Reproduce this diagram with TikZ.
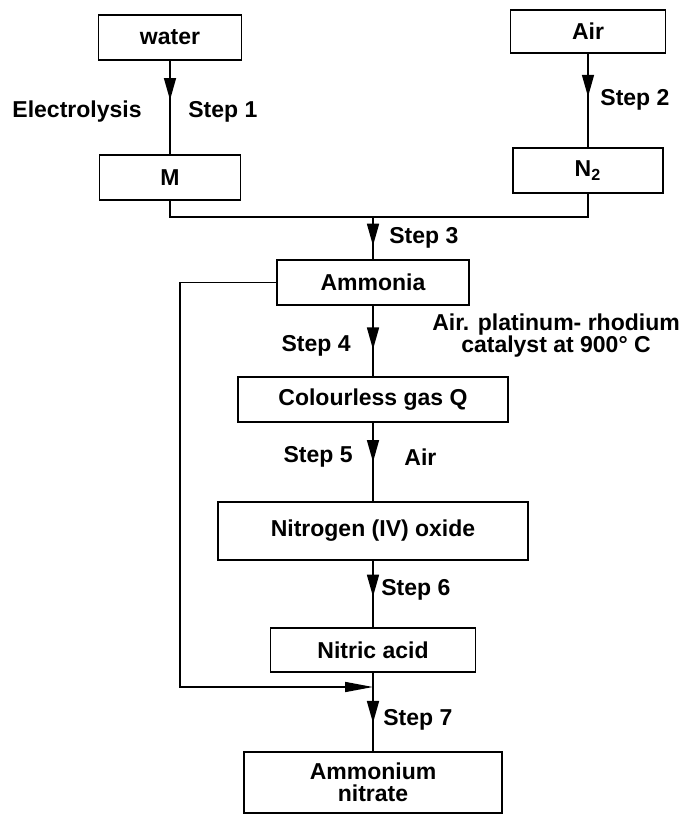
\documentclass[tikz,border=0pt]{standalone}
\usepackage{fontspec}
\setmainfont{Liberation Sans}
\usetikzlibrary{arrows.meta,decorations.markings}
\tikzset{
  box/.style={draw, line width=0.8pt, align=center, inner sep=0pt},
  lbl/.style={inner sep=0pt},
  link/.style={line width=0.8pt},
  flow/.style={link, postaction={decorate},
    decoration={markings, mark=at position #1 with {\arrow{Triangle[length=11pt,width=6pt]}}}},
}
\begin{document}
\begin{tikzpicture}[x=0.5pt, y=-0.5pt, font=\fontsize{11.5}{11}\selectfont\bfseries]
  \useasboundingbox (0,0) rectangle (695,817);
  \node[box, minimum width=71.5pt, minimum height=22.5pt] (water) at (170,37.5) {water};
  \node[box, minimum width=70.5pt, minimum height=22.5pt] (m) at (170,177.5) {M};
  \node[box, minimum width=77.5pt, minimum height=21.5pt] (air) at (588,31.5) {Air};
  \node[box, minimum width=75pt, minimum height=22.5pt] (n2) at (588,170.5) {N\textsubscript{2}};
  \node[box, minimum width=96pt, minimum height=22.5pt] (ammonia) at (373,282.5) {Ammonia};
  \node[box, minimum width=135pt, minimum height=22.5pt] (gasq) at (373,399.5) {Colourless gas Q};
  \node[box, minimum width=155pt, minimum height=29pt] (no2) at (373,531) {Nitrogen (IV) oxide};
  \node[box, minimum width=102.5pt, minimum height=22pt] (nitric) at (373,650) {Nitric acid};
  \node[box, minimum width=129pt, minimum height=30.5pt] (nitrate) at (373,782.5) {Ammonium\\nitrate};
  \coordinate (join) at (373,217);
  \coordinate (back) at (180,687);
  \coordinate (mix) at (373,687);
  \draw[flow=0.42] (water) -- (m);
  \draw[flow=0.46] (air) -- (n2);
  \draw[link] (m.south) |- (join) -| (n2.south);
  \draw[flow=0.68] (join) -- (ammonia);
  \draw[flow=0.62] (ammonia) -- (gasq);
  \draw[flow=0.5] (gasq) -- (no2);
  \draw[flow=0.54] (no2) -- (nitric);
  \draw[flow=0.64] (nitric) -- (nitrate);
  \draw[link, -{Triangle[length=14pt,width=5pt]}] (ammonia.west) -| (back) -- (mix);
  \node[lbl, anchor=east] (electro) at (142,112) {Electrolysis};
  \node[lbl, anchor=west] (step1) at (188,112) {Step 1};
  \node[lbl, anchor=west] (step2) at (600,100) {Step 2};
  \node[lbl, anchor=west] (step3) at (389,238) {Step 3};
  \node[lbl, anchor=east] (step4) at (351,346) {Step 4};
  \node[lbl, align=center] (catalyst) at (556,336) {Air. platinum- rhodium\\catalyst at 900° C};
  \node[lbl, anchor=east] (step5) at (353,457) {Step 5};
  \node[lbl, anchor=west] (air5) at (404,457) {Air};
  \node[lbl, anchor=west] (step6) at (381,590) {Step 6};
  \node[lbl, anchor=west] (step7) at (383,720) {Step 7};
\end{tikzpicture}
\end{document}
